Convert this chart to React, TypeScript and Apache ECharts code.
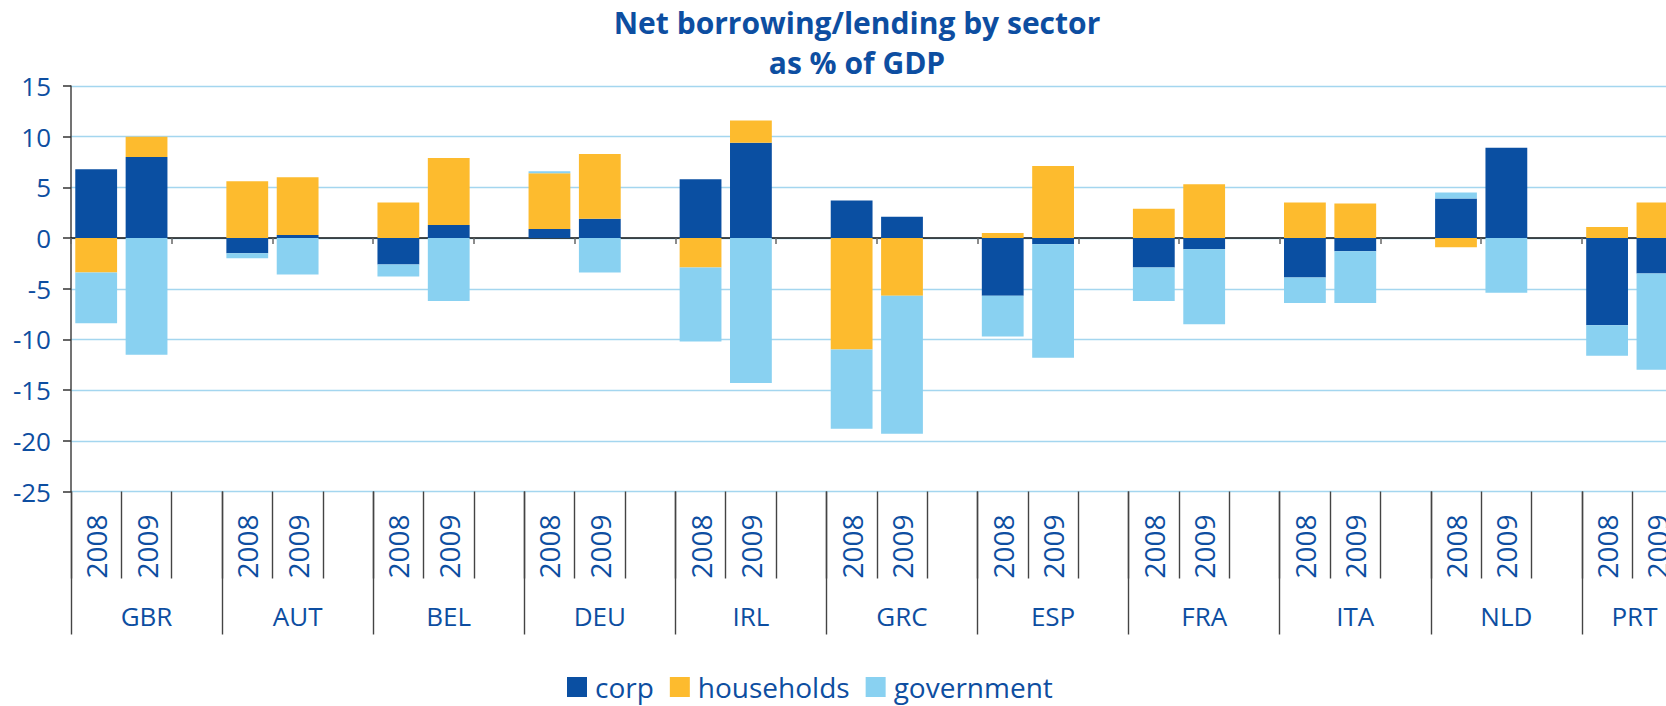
import React, { useEffect, useRef } from "react";
import * as echarts from "echarts";

const titleLine1 = "Net borrowing/lending by sector";
const titleLine2 = "as % of GDP";
const countries = ["GBR", "AUT", "BEL", "DEU", "IRL", "GRC", "ESP", "FRA", "ITA", "NLD", "PRT"];
const years = ["2008", "2009"];
const seriesNames = ["corp", "households", "government"];
// values per country, 2008 then 2009
const corp = [6.8, 8.0, -1.5, 0.3, -2.6, 1.3, 0.9, 1.9, 5.8, 9.4, 3.7, 2.1, -5.7, -0.6, -2.9, -1.1, -3.9, -1.3, 3.9, 8.9, -8.6, -3.5];
const households = [-3.4, 2.0, 5.6, 5.7, 3.5, 6.6, 5.5, 6.4, -2.9, 2.2, -11.0, -5.7, 0.5, 7.1, 2.9, 5.3, 3.5, 3.4, -0.9, 0, 1.1, 3.5];
const government = [-5.0, -11.5, -0.5, -3.6, -1.2, -6.2, 0.2, -3.4, -7.3, -14.3, -7.8, -13.6, -4.0, -11.2, -3.3, -7.4, -2.5, -5.1, 0.6, -5.4, -3.0, -9.5];
const yMin = -25;
const yMax = 15;
const yStep = 5;

const colors = ["#0a4fa2", "#fdbb2e", "#89d1f1"];
const textBlue = "#0d4ea1";
const font = "Open Sans";

// slots: 2008, 2009, gap for each country
const slotKeys: string[] = [];
const slotYears: string[] = [];
countries.forEach((c) => {
  years.forEach((y) => {
    slotKeys.push(c + " " + y);
    slotYears.push(y);
  });
  slotKeys.push(c + " gap");
  slotYears.push("");
});

function toSlots(vals: number[]) {
  const out: (number | string)[] = [];
  countries.forEach((_, i) => {
    out.push(vals[2 * i], vals[2 * i + 1], "-");
  });
  return out;
}

export default function App() {
  const ref = useRef<HTMLDivElement>(null);
  useEffect(() => {
    document.body.style.margin = "0";
    document.body.style.overflow = "hidden";
    document.documentElement.style.overflow = "hidden";
    const chart = echarts.init(ref.current!, null, { renderer: "svg" });
    const seriesData = [corp, households, government];
    // the last country has no trailing gap slot, so its label sits over its two bars
    const countryData = countries.map((c, i) =>
      i === countries.length - 1 ? { value: c, textStyle: { align: "right" } } : c
    );
    chart.setOption({
      animation: false,
      textStyle: { fontFamily: font },
      graphic: [
        {
          type: "text",
          x: 857,
          y: 22,
          style: {
            text: titleLine1,
            align: "center",
            verticalAlign: "middle",
            font: `bold 30px "${font}"`,
            fill: textBlue,
          },
        },
        {
          type: "text",
          x: 857,
          y: 62,
          style: {
            text: titleLine2,
            align: "center",
            verticalAlign: "middle",
            font: `bold 30px "${font}"`,
            fill: textBlue,
          },
        },
      ],
      legend: {
        data: seriesNames,
        left: 567,
        top: 673,
        padding: 0,
        itemWidth: 20,
        itemHeight: 20,
        itemGap: 16,
        icon: "rect",
        textStyle: { fontSize: 28, lineHeight: 28, color: textBlue, fontFamily: font, padding: [0, 0, 0, 3] },
      },
      grid: { left: 71, top: 86, width: 1662, height: 405.5, containLabel: false },
      xAxis: [
        {
          type: "category",
          data: slotKeys,
          position: "bottom",
          axisLine: { onZero: true, lineStyle: { color: "#111", width: 1.6 } },
          axisTick: { show: true, length: 6, lineStyle: { color: "#666", width: 1.5 } },
          axisLabel: { show: false },
          splitLine: { show: false },
        },
        {
          type: "category",
          data: slotKeys,
          position: "bottom",
          axisLine: { show: false, onZero: false },
          axisTick: { show: true, length: 87, interval: 0, lineStyle: { color: "#444", width: 1.4 } },
          axisLabel: {
            show: true,
            interval: 0,
            rotate: 90,
            margin: 23,
            fontSize: 28,
            color: textBlue,
            fontFamily: font,
            formatter: (_v: string, idx: number) => slotYears[idx],
          },
          splitLine: { show: false },
        },
        {
          type: "category",
          data: countryData,
          position: "bottom",
          axisLine: { show: false, onZero: false },
          axisTick: { show: true, length: 143, interval: 0, lineStyle: { color: "#444", width: 1.4 } },
          axisLabel: { show: true, interval: 0, margin: 111, fontSize: 26, color: textBlue, fontFamily: font },
          splitLine: { show: false },
        },
      ],
      yAxis: {
        type: "value",
        min: yMin,
        max: yMax,
        interval: yStep,
        axisLine: { show: true, lineStyle: { color: "#444", width: 1.5 } },
        axisTick: { show: true, length: 8, lineStyle: { color: "#333", width: 1.5 } },
        axisLabel: { fontSize: 26, color: textBlue, margin: 20, fontFamily: font },
        splitLine: { show: true, lineStyle: { color: "#a4d6ef", width: 1.4 } },
      },
      series: seriesNames.map((name, i) => ({
        name,
        type: "bar",
        stack: "total",
        xAxisIndex: 0,
        barCategoryGap: "17%",
        itemStyle: { color: colors[i] },
        data: toSlots(seriesData[i]),
      })),
    });
    return () => chart.dispose();
  }, []);
  return <div ref={ref} style={{ width: 1760, height: 706 }} />;
}
